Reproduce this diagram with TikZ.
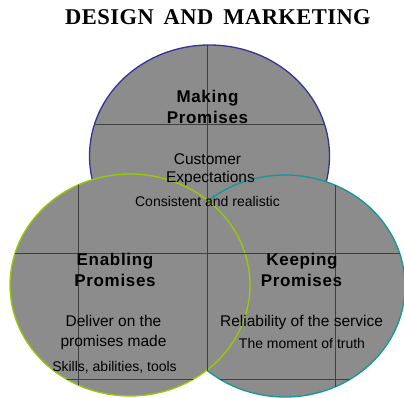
\documentclass[tikz,border=0pt]{standalone}
\usepackage{fontspec}
\setmainfont{Liberation Sans}
\newfontfamily\titlefont[LetterSpace=2]{Liberation Serif}
\newfontfamily\headfont[LetterSpace=4]{Liberation Sans}
\usetikzlibrary{shapes.geometric}
\definecolor{venngray}{rgb}{0.55,0.55,0.55}
\definecolor{topblue}{HTML}{333399}
\definecolor{rightteal}{HTML}{0F9999}
\definecolor{leftgreen}{HTML}{99CC00}
\tikzset{
  venn/.style={ellipse, minimum width=240pt, minimum height=222pt, inner sep=0pt, fill=venngray, line width=1.3pt},
  gridline/.style={draw=black!75, line width=0.5pt},
  head/.style={anchor=base, inner sep=0pt, font=\headfont\bfseries\fontsize{17}{17}\selectfont},
  body/.style={anchor=base, inner sep=0pt, font=\fontsize{15.5}{15.5}\selectfont},
  small/.style={anchor=base, inner sep=0pt, font=\fontsize{14}{14}\selectfont},
}
\begin{document}
\begin{tikzpicture}[x=1pt, y=-1pt]
\useasboundingbox (0,0) rectangle (404,398);
\node[anchor=base, inner sep=0pt, font=\titlefont\bfseries\fontsize{22.5}{22.5}\selectfont] (title) at (218,25) {DESIGN\hspace{10pt}AND\hspace{10pt}MARKETING};
% circles
\node[venn, draw=topblue] (making) at (209.5,156) {};
\node[venn, draw=rightteal] (keeping) at (285,286) {};
\node[venn, draw=leftgreen] (enabling) at (130,285) {};
% grid clipped to the union of the circles
\begin{scope}
\clip (209.5,156) ellipse [x radius=120pt, y radius=111pt]
      (285,286) ellipse [x radius=120pt, y radius=111pt]
      (130,285) ellipse [x radius=120pt, y radius=111pt];
\draw[gridline] (78,0) -- (78,398);
\draw[gridline] (207,0) -- (207,398);
\draw[gridline] (335,0) -- (335,398);
\draw[gridline] (0,124) -- (404,124);
\draw[gridline] (0,253) -- (404,253);
\draw[gridline] (0,379) -- (404,379);
\end{scope}
% texts
\node[head] (mk1) at (207.5,103) {Making};
\node[head] (mk2) at (207.5,123.5) {Promises};
\node[body] (ce1) at (207.5,164.5) {Customer};
\node[body] (ce2) at (210.5,182.5) {Expectations};
\node[small] (cr) at (207.5,206.5) {Consistent and realistic};
\node[head] (en1) at (115,265) {Enabling};
\node[head] (en2) at (115,286.5) {Promises};
\node[body] (dl1) at (113.5,326) {Deliver on the};
\node[body] (dl2) at (113.5,346) {promises made};
\node[small] (sk) at (114.5,371) {Skills, abilities, tools};
\node[head] (kp1) at (302,265.5) {Keeping};
\node[head] (kp2) at (301.5,286.5) {Promises};
\node[body] (rl) at (301.5,326) {Reliability of the service};
\node[small] (mt) at (302,348.5) {The moment of truth};
\end{tikzpicture}
\end{document}
